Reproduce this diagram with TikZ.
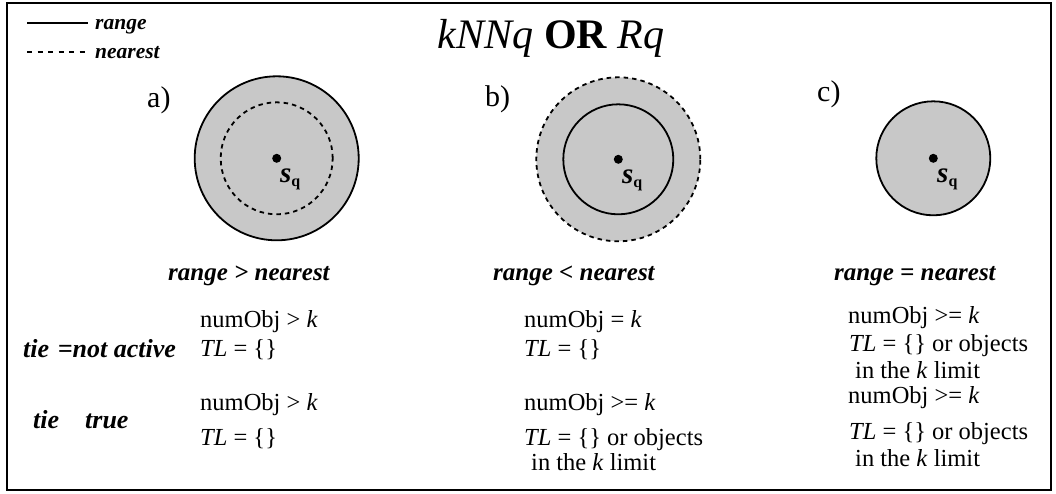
\documentclass[tikz,border=0pt]{standalone}
\usepackage{fontspec}
\setmainfont{Liberation Serif}
\definecolor{circgray}{RGB}{200,200,200}
\begin{document}
\begin{tikzpicture}[x=1pt,y=-1pt,
  txt/.style={inner sep=0pt,anchor=base west,font=\fontsize{24.5}{28}\selectfont},
  lbl/.style={inner sep=0pt,anchor=base west,font=\fontsize{25}{28}\selectfont\bfseries\itshape},
  leg/.style={inner sep=0pt,anchor=base west,font=\fontsize{21.5}{24}\selectfont\bfseries\itshape},
  letter/.style={inner sep=0pt,anchor=base west,font=\fontsize{30}{32}\selectfont},
  sqlab/.style={inner sep=0pt,anchor=base west},
  solidc/.style={line width=1.8pt},
  dashc/.style={line width=1.8pt,dash pattern=on 4.5pt off 4pt},
  frame/.style={line width=2.5pt}]
\useasboundingbox (0,0) rectangle (1056,493);
\draw[frame] (7,3) rectangle (1051,490);

% legend
\coordinate (l1a) at (27,23); \coordinate (l1b) at (88,23);
\coordinate (l2a) at (27,52); \coordinate (l2b) at (88,52);
\draw[line width=1.5pt] (l1a) -- (l1b);
\draw[line width=1.5pt,dash pattern=on 5pt off 5.5pt] (l2a) -- (l2b);
\node[leg] (lrange) at (95,29) {range};
\node[leg] (lnear) at (95,58) {nearest};

% title
\node[inner sep=0pt,anchor=base,font=\fontsize{42}{46}\selectfont] (title) at (551,48)
  {{\itshape kNNq} {\bfseries OR} {\itshape Rq}};

% letters
\node[letter] (la) at (147,107) {a)};
\node[letter] (lb) at (485,106) {b)};
\node[letter] (lc) at (817,101) {c)};

% circle a
\fill[circgray] (276.7,158.3) circle[radius=82pt];
\draw[solidc] (276.7,158.3) circle[radius=82pt];
\draw[dashc] (276.7,158.3) circle[radius=56pt];
\fill (276.7,158.3) circle[radius=4.5pt];
\node[sqlab] (sqa) at (280,182) {{\fontsize{29}{30}\selectfont\bfseries\itshape s}\raisebox{-4pt}{\fontsize{16}{16}\selectfont\bfseries q}};

% circle b
\fill[circgray] (618.3,159.3) circle[radius=82pt];
\draw[dashc] (618.3,159.3) circle[radius=82pt];
\draw[solidc] (618.3,159.3) circle[radius=55pt];
\fill (618.3,159.3) circle[radius=4.5pt];
\node[sqlab] (sqb) at (622,183) {{\fontsize{29}{30}\selectfont\bfseries\itshape s}\raisebox{-4pt}{\fontsize{16}{16}\selectfont\bfseries q}};

% circle c
\fill[circgray] (933.3,158.3) circle[radius=57pt];
\draw[solidc] (933.3,158.3) circle[radius=57pt];
\fill (933.3,158.3) circle[radius=4.5pt];
\node[sqlab] (sqc) at (937,182) {{\fontsize{29}{30}\selectfont\bfseries\itshape s}\raisebox{-4pt}{\fontsize{16}{16}\selectfont\bfseries q}};

% captions
\node[lbl] (capa) at (168,280) {range > nearest};
\node[lbl] (capb) at (493,280) {range < nearest};
\node[lbl] (capc) at (834,280) {range = nearest};

% row labels
\node[lbl,font=\fontsize{26}{28}\selectfont\bfseries\itshape] (tie1) at (23,357) {tie\,\,=not active};
\node[lbl,font=\fontsize{26}{28}\selectfont\bfseries\itshape] (tie2a) at (33,428) {tie};
\node[lbl,font=\fontsize{26}{28}\selectfont\bfseries\itshape] (tie2b) at (85,428) {true};

% column a
\node[txt] (a1) at (200,327) {numObj > \textit{k}};
\node[txt] (a2) at (200,356) {\textit{TL} = \{\}};
\node[txt] (a3) at (200,410) {numObj > \textit{k}};
\node[txt] (a4) at (200,445) {\textit{TL} = \{\}};

% column b
\node[txt] (b1) at (524,327) {numObj = \textit{k}};
\node[txt] (b2) at (524,356) {\textit{TL} = \{\}};
\node[txt] (b3) at (524,410) {numObj >= \textit{k}};
\node[txt] (b4) at (524,445) {\textit{TL} = \{\} or objects};
\node[txt] (b5) at (531,470) {in the \textit{k} limit};

% column c
\node[txt] (c1) at (848,323) {numObj >= \textit{k}};
\node[txt] (c2) at (849,351) {\textit{TL} = \{\} or objects};
\node[txt] (c3) at (855,378) {in the \textit{k} limit};
\node[txt] (c4) at (848,403) {numObj >= \textit{k}};
\node[txt] (c5) at (849,439) {\textit{TL} = \{\} or objects};
\node[txt] (c6) at (855,466) {in the \textit{k} limit};
\end{tikzpicture}
\end{document}
